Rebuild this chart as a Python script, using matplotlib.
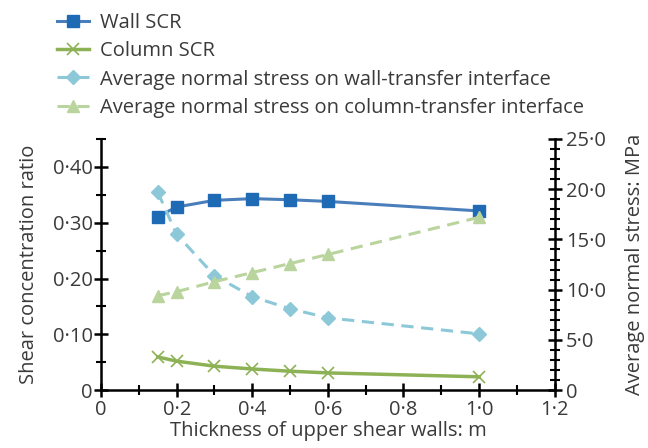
import matplotlib
matplotlib.use("Agg")
import matplotlib.pyplot as plt
from matplotlib.ticker import FixedLocator, MultipleLocator, FuncFormatter

plt.rcParams['font.family'] = ['Open Sans', 'DejaVu Sans']

thickness = [0.15, 0.2, 0.3, 0.4, 0.5, 0.6, 1.0]
wall_scr = [0.311, 0.328, 0.340, 0.343, 0.341, 0.338, 0.321]
column_scr = [0.0595, 0.052, 0.043, 0.038, 0.034, 0.031, 0.024]
wall_stress = [19.7, 15.5, 11.4, 9.3, 8.1, 7.2, 5.6]
column_stress = [9.4, 9.8, 10.8, 11.7, 12.6, 13.5, 17.2]

labels = ["Wall SCR", "Column SCR",
          "Average normal stress on wall-transfer interface",
          "Average normal stress on column-transfer interface"]

txt = '#3a3a3a'
fs = 14.5

fig = plt.figure(figsize=(6.48, 4.48), dpi=100)
ax = fig.add_axes([0.156, 0.129, 0.700, 0.561])
ax2 = ax.twinx()

l1, = ax.plot(thickness, wall_scr, color='#4A7EBB', lw=2.2, marker='s', ms=8.5,
              mfc='#1F6AB5', mec='#1F6AB5')
l2, = ax.plot(thickness, column_scr, color='#8DB255', lw=2.5, marker='x', ms=8.5,
              mew=1.2, mec='#8DB255')
l3, = ax2.plot(thickness, wall_stress, color='#8CC8D8', lw=2.2, ls=(0, (4, 2.5)),
               marker='D', ms=7, mfc='#8CC8D8', mec='#8CC8D8')
l4, = ax2.plot(thickness, column_stress, color='#B9D49C', lw=2.2, ls=(0, (4, 2.5)),
               marker='^', ms=9, mfc='#B9D49C', mec='#B9D49C')

ax.set_xlim(0, 1.2)
ax.set_ylim(0, 0.45)
ax2.set_ylim(0, 25)

fmt = lambda v, p: ('0' if abs(v) < 1e-9 else f'{v:.1f}'.replace('.', '\u00b7'))
fmt2 = lambda v, p: ('0' if abs(v) < 1e-9 else f'{v:.2f}'.replace('.', '\u00b7'))
ax.xaxis.set_major_locator(FixedLocator([0, 0.2, 0.4, 0.6, 0.8, 1.0, 1.2]))
ax.xaxis.set_minor_locator(MultipleLocator(0.1))
ax.xaxis.set_major_formatter(FuncFormatter(fmt))
ax.yaxis.set_major_locator(FixedLocator([0, 0.1, 0.2, 0.3, 0.4]))
ax.yaxis.set_minor_locator(MultipleLocator(0.05))
ax.yaxis.set_major_formatter(FuncFormatter(fmt2))
ax2.yaxis.set_major_locator(MultipleLocator(5))
ax2.yaxis.set_minor_locator(MultipleLocator(1))
ax2.yaxis.set_major_formatter(FuncFormatter(fmt))

for a in (ax, ax2):
    for s in a.spines.values():
        s.set_linewidth(1.8)
        s.set_color('black')
    a.spines['top'].set_visible(False)
ax.spines['right'].set_visible(False)
ax2.spines['left'].set_visible(False)
ax2.spines['bottom'].set_visible(False)

ax.tick_params(axis='both', which='major', direction='inout', length=10, width=1.8,
               labelsize=fs, labelcolor=txt, pad=1)
ax.tick_params(axis='x', which='major', pad=2)
ax.tick_params(axis='both', which='minor', direction='inout', length=7, width=1.5)
ax2.tick_params(axis='y', which='major', direction='inout', length=10, width=1.8,
                labelsize=fs, labelcolor=txt, pad=3)
ax2.tick_params(axis='y', which='minor', direction='inout', length=7, width=1.5)

ax.set_xlabel('Thickness of upper shear walls: m', fontsize=fs, color=txt, labelpad=1)
ax.set_ylabel('Shear concentration ratio', fontsize=fs, color=txt, labelpad=10)
ax2.set_ylabel('Average normal stress: MPa', fontsize=fs, color=txt, labelpad=14)

fig.legend([l1, l2, l3, l4], labels, loc='upper left', bbox_to_anchor=(0.075, 0.988),
           frameon=False, fontsize=fs, labelcolor=txt, handlelength=1.6,
           handletextpad=0.55, labelspacing=0.4, borderaxespad=0)

fig.savefig('out.png', dpi=100)
